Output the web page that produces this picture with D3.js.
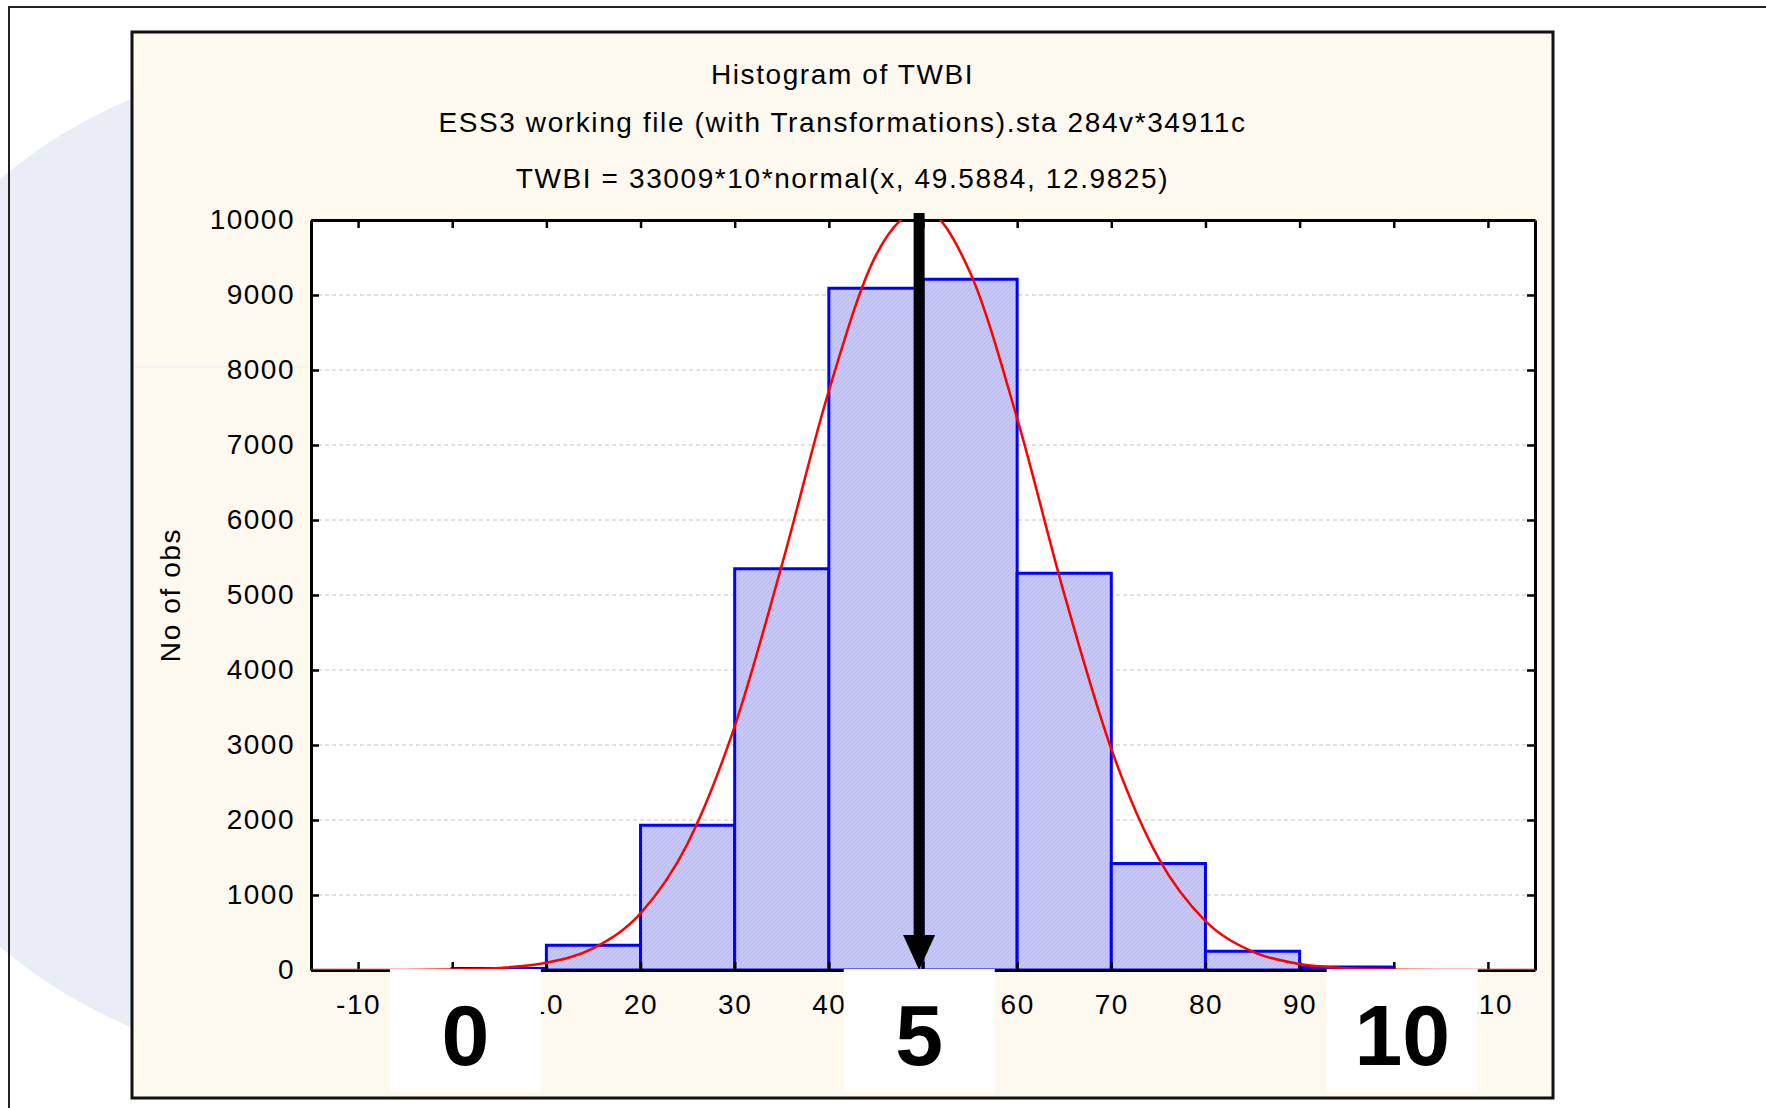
<!DOCTYPE html>
<html>
<head>
<meta charset="utf-8">
<script src="https://cdn.jsdelivr.net/npm/d3@7"></script>
<style>
body { margin: 0; background: #fff; }
svg text { font-family: "Liberation Sans", Arial, sans-serif; fill: #000; }
.ax text { font-size: 28px; letter-spacing: 1.5px; }
.ax .domain { stroke: #000; stroke-width: 3; }
.ax line { stroke: #000; stroke-width: 2.5; }
.title { font-size: 28px; letter-spacing: 1.6px; }
.big { font-size: 86px; font-weight: bold; }
</style>
</head>
<body>
<svg id="chart"></svg>
<script>
// HISTOGRAM OF TWBI

// DATA
var binStart = [0, 10, 20, 30, 40, 50, 60, 70, 80, 90];
var binWidth = 10;
var binCount = [20, 330, 1930, 5350, 9090, 9210, 5290, 1420, 250, 40];

// fitted normal curve, every 5 units
var curveX = [-15, -10, -5, 0, 5, 10, 15, 20, 25, 30, 35, 40, 45, 50, 55,
              60, 65, 70, 75, 80, 85, 90, 95, 100, 105, 110, 115];
var curveY = [0, 0.3, 1.5, 7, 28, 97, 291, 755, 1687, 3249, 5394, 7722, 9529, 10138, 9300,
              7354, 5014, 2947, 1494, 653, 246, 80, 22, 5, 1, 0, 0];

var xTicks = [-10, 0, 10, 20, 30, 40, 50, 60, 70, 80, 90, 100, 110];
// tick labels that sit fully behind the white label boxes are left blank
var hiddenXLabels = [0, 50, 100];
var yTicks = [0, 1000, 2000, 3000, 4000, 5000, 6000, 7000, 8000, 9000, 10000];
var gridTicks = [1000, 2000, 3000, 4000, 5000, 6000, 7000, 8000, 9000];

var titleLines = ["Histogram of TWBI",
                  "ESS3 working file (with Transformations).sta 284v*34911c",
                  "TWBI = 33009*10*normal(x, 49.5884, 12.9825)"];
var yLabel = "No of obs";
var meanValue = 49.5884;

// big 0-5-10 labels pasted under the axis
var scaleLabels = ["0", "5", "10"];
var scalePos = [1.4, 49.6, 100.9];


// DRAWING AREA SIZING
var width = 1766;
var height = 1108;
var panel = {left: 132, top: 32, right: 1553, bottom: 1098};
var plot = {left: 311, top: 220, right: 1535, bottom: 970};

var svg = d3.select("#chart")
	.attr("width", width)
	.attr("height", height);

// background circle + outer frame
svg.append("circle")
	.attr("cx", 325).attr("cy", 563).attr("r", 503)
	.style("fill", "#e9eef6");

svg.append("path")
	.attr("d", "M9," + height + "V7H" + width)
	.style("fill", "none")
	.style("stroke", "#222")
	.style("stroke-width", 2);

// PANEL
svg.append("rect")
	.attr("x", panel.left).attr("y", panel.top)
	.attr("width", panel.right - panel.left)
	.attr("height", panel.bottom - panel.top)
	.style("fill", "#fdf9ee")
	.style("stroke", "#111")
	.style("stroke-width", 3);

svg.append("line")
	.attr("x1", panel.left + 2).attr("x2", plot.left)
	.attr("y1", 367).attr("y2", 367)
	.style("stroke", "#eceff2");

// hatch fill for the bars
var defs = svg.append("defs");
var pat = defs.append("pattern")
	.attr("id", "hatch")
	.attr("patternUnits", "userSpaceOnUse")
	.attr("width", 4).attr("height", 4);
pat.append("rect").attr("width", 4).attr("height", 4).style("fill", "#c8c8f8");
pat.append("path").attr("d", "M0,4L4,0").style("stroke", "#b6b6f2").style("stroke-width", 1);

defs.append("clipPath").attr("id", "plotclip")
	.append("rect")
	.attr("x", plot.left).attr("y", plot.top)
	.attr("width", plot.right - plot.left)
	.attr("height", plot.bottom - plot.top);

// SCALES
var xScale = d3.scaleLinear()
	.domain([-15, 115])
	.range([plot.left, plot.right]);

var yScale = d3.scaleLinear()
	.domain([0, 10000])
	.range([plot.bottom, plot.top]);

svg.append("rect")
	.attr("x", plot.left).attr("y", plot.top)
	.attr("width", plot.right - plot.left)
	.attr("height", plot.bottom - plot.top)
	.style("fill", "#fff");

// GRID
svg.append("g").selectAll("line")
	.data(gridTicks)
	.enter()
	.append("line")
	.attr("x1", plot.left).attr("x2", plot.right)
	.attr("y1", d => yScale(d)).attr("y2", d => yScale(d))
	.style("stroke", "#c4c4c4")
	.style("stroke-width", 1)
	.style("stroke-dasharray", "4,3");

// TITLES
svg.append("g").selectAll("text")
	.data(titleLines)
	.enter()
	.append("text")
	.attr("class", "title")
	.attr("x", (panel.left + panel.right) / 2)
	.attr("y", (d, i) => [84, 132, 188][i])
	.attr("text-anchor", "middle")
	.text(d => d);

svg.append("text")
	.attr("class", "title")
	.attr("transform", "translate(180," + ((plot.top + plot.bottom) / 2) + ") rotate(-90)")
	.attr("text-anchor", "middle")
	.text(yLabel);

// BARS
svg.append("g").selectAll("rect")
	.data(binCount)
	.enter()
	.append("rect")
	.attr("x", (d, i) => xScale(binStart[i]))
	.attr("y", d => yScale(d))
	.attr("width", (d, i) => xScale(binStart[i] + binWidth) - xScale(binStart[i]))
	.attr("height", d => yScale(0) - yScale(d))
	.style("fill", "url(#hatch)")
	.style("stroke", "#0000ff")
	.style("stroke-width", 3);

// AXES (ticks all pointing inward)
svg.append("g")
	.attr("class", "ax")
	.attr("transform", "translate(0," + plot.bottom + ")")
	.call(d3.axisBottom(xScale).tickValues(xTicks).tickSize(-8).tickSizeOuter(0).tickPadding(24)
		.tickFormat(d => hiddenXLabels.indexOf(d) >= 0 ? "" : String(d)));

svg.append("g")
	.attr("class", "ax")
	.attr("transform", "translate(0," + plot.top + ")")
	.call(d3.axisTop(xScale).tickValues(xTicks).tickSize(-8).tickSizeOuter(0).tickFormat(""));

svg.append("g")
	.attr("class", "ax")
	.attr("transform", "translate(" + plot.left + ",0)")
	.call(d3.axisLeft(yScale).tickValues(yTicks).tickSize(-8).tickSizeOuter(0).tickPadding(16)
		.tickFormat(d => String(d)));

svg.append("g")
	.attr("class", "ax")
	.attr("transform", "translate(" + plot.right + ",0)")
	.call(d3.axisRight(yScale).tickValues(yTicks).tickSize(-8).tickSizeOuter(0).tickFormat(""));

// NORMAL CURVE
var line = d3.line()
	.x((d, i) => xScale(curveX[i]))
	.y(d => yScale(d))
	.curve(d3.curveMonotoneX);

svg.append("path")
	.datum(curveY)
	.attr("clip-path", "url(#plotclip)")
	.attr("d", line)
	.style("fill", "none")
	.style("stroke", "#ff0000")
	.style("stroke-width", 2.5);

// MEAN ARROW
var xm = xScale(meanValue);
svg.append("line")
	.attr("x1", xm).attr("x2", xm)
	.attr("y1", plot.top - 7).attr("y2", yScale(0) - 33)
	.style("stroke", "#000")
	.style("stroke-width", 11);

svg.append("path")
	.attr("d", "M" + (xm - 16) + "," + (yScale(0) - 35) + "L" + (xm + 16) + "," + (yScale(0) - 35) + "L" + xm + "," + yScale(0) + "Z")
	.style("fill", "#000");

// BIG 0 / 5 / 10 LABELS
var boxes = svg.append("g").selectAll("g")
	.data(scaleLabels)
	.enter()
	.append("g");

boxes.append("rect")
	.attr("x", (d, i) => xScale(scalePos[i]) - 75.5)
	.attr("y", plot.bottom - 1)
	.attr("width", 151)
	.attr("height", 123)
	.style("fill", "#fff");

boxes.append("text")
	.attr("class", "big")
	.attr("x", (d, i) => xScale(scalePos[i]))
	.attr("y", 1065)
	.attr("text-anchor", "middle")
	.text(d => d);
</script>
</body>
</html>
